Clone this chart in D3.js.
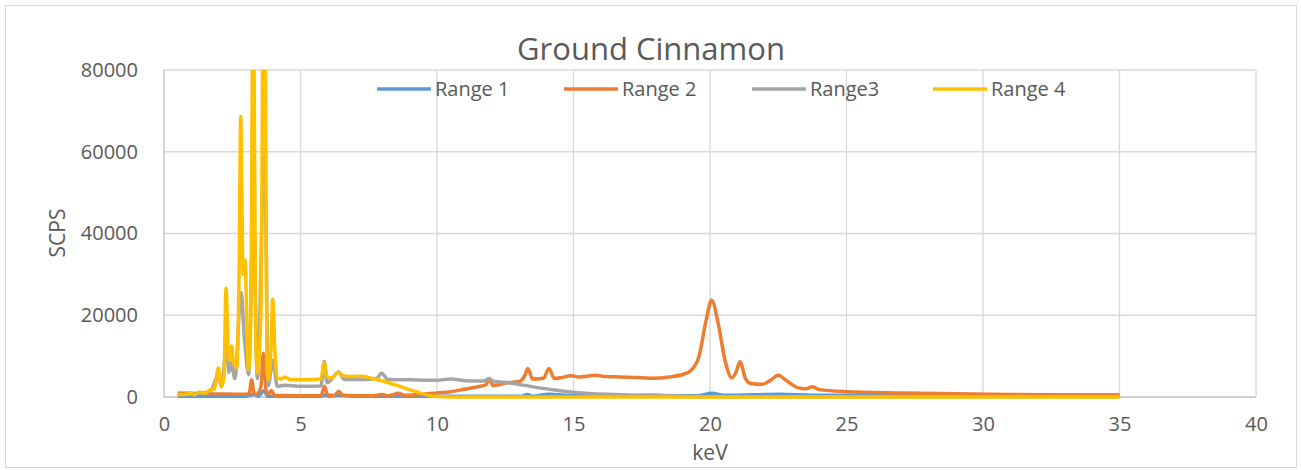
<!DOCTYPE html>
<html>
<head>
<meta charset="utf-8">
<script src="https://cdn.jsdelivr.net/npm/d3@7"></script>
<style>
  body { margin: 0; background: #fff; }
  text { font-family: "Open Sans", Lato, sans-serif; fill: #595959; }
</style>
</head>
<body>
<div id="chart"></div>
<script>
// series names + colours (Excel defaults)
const seriesNames = ["Range 1", "Range 2", "Range3", "Range 4"];
const seriesColors = ["#5b9bd5", "#ed7d31", "#a5a5a5", "#ffc000"];

const xTicks = [0, 5, 10, 15, 20, 25, 30, 35, 40];
const yTicks = [0, 20000, 40000, 60000, 80000];

// Range 1 (blue)
const kev1 = [0.5, 3.0, 3.3, 3.45, 3.67, 3.8, 5.75, 5.9, 6.05, 6.4, 7.0, 13.1, 13.3, 13.5, 14.1, 15.0, 19.6, 20.05, 20.6, 22.5, 24.0, 30.0, 35.0];
const cps1 = [200, 200, 700, 200, 1600, 200, 200, 500, 200, 400, 200, 200, 600, 200, 700, 300, 300, 900, 400, 700, 400, 500, 500];

// Range 2 (orange)
const kev2 = [0.5, 1.0, 1.5, 2.0, 2.6, 3.0, 3.12, 3.21, 3.3, 3.37, 3.55, 3.64, 3.74, 3.8, 3.93, 4.05, 4.5, 5.0, 5.75, 5.88, 6.0, 6.25, 6.4, 6.55, 7.0, 7.6, 8.0, 8.2, 8.6, 8.8, 9.5, 10.0, 10.5, 11.0, 11.5, 11.8, 11.92, 12.05, 12.5, 13.0, 13.2, 13.33, 13.5, 13.9, 14.1, 14.3, 14.6, 14.9, 15.2, 15.8, 16.2, 16.7, 17.5, 17.9, 18.5, 19.0, 19.3, 19.6, 19.85, 20.06, 20.3, 20.55, 20.8, 20.95, 21.1, 21.3, 21.5, 21.9, 22.2, 22.5, 22.8, 23.2, 23.5, 23.75, 24.0, 25.0, 27.0, 29.0, 31.0, 33.0, 35.0];
const cps2 = [1000, 900, 800, 750, 700, 700, 800, 4200, 800, 600, 2500, 10700, 1500, 500, 1600, 400, 350, 300, 350, 2600, 400, 400, 1400, 400, 300, 300, 600, 300, 900, 400, 700, 1000, 1300, 1900, 2500, 3000, 4500, 2800, 3400, 3800, 5000, 7000, 4400, 4600, 7000, 4500, 4800, 5200, 4900, 5300, 5000, 4900, 4700, 4600, 4900, 5500, 6500, 10000, 18500, 23700, 18000, 9000, 4700, 6000, 8600, 4500, 3300, 3100, 4000, 5300, 4000, 2300, 2000, 2500, 1800, 1300, 1000, 800, 600, 500, 400];

// Range3 (grey)
const kev3 = [0.5, 1.0, 1.3, 1.7, 2.0, 2.1, 2.29, 2.38, 2.45, 2.6, 2.82, 2.95, 3.1, 3.27, 3.42, 3.68, 3.82, 3.99, 4.15, 4.43, 5.0, 5.75, 5.87, 5.97, 6.4, 6.6, 7.4, 7.8, 7.97, 8.2, 9.0, 10.0, 10.5, 11.0, 11.7, 11.9, 12.1, 12.5, 13.15, 14.3, 15.1, 16.2, 17.2, 17.9, 19.0, 20.0, 35.0];
const cps3 = [500, 700, 900, 1400, 5500, 2500, 12000, 6000, 8500, 4500, 25500, 14000, 5500, 45000, 4500, 60000, 2800, 9000, 2600, 2900, 2600, 2700, 8700, 3500, 6100, 4300, 4300, 4600, 5800, 4300, 4200, 4100, 4400, 4000, 3900, 4500, 3800, 3600, 2900, 1700, 1100, 650, 450, 500, 200, 50, 50];

// Range 4 (yellow)
const kev4 = [0.5, 0.8, 1.0, 1.1, 1.3, 1.5, 1.7, 1.85, 1.99, 2.1, 2.2, 2.27, 2.38, 2.48, 2.55, 2.6, 2.66, 2.75, 2.81, 2.9, 2.97, 3.03, 3.09, 3.18, 3.27, 3.36, 3.42, 3.55, 3.67, 3.77, 3.82, 3.92, 3.98, 4.07, 4.15, 4.3, 4.43, 4.6, 5.0, 5.5, 5.75, 5.87, 5.97, 6.15, 6.4, 6.55, 6.8, 7.2, 7.6, 8.0, 8.5, 9.0, 9.5, 10.0, 10.5, 35.0];
const cps4 = [600, 700, 1000, 500, 1200, 900, 1800, 2000, 7100, 2500, 5000, 26600, 9000, 12500, 8000, 9000, 7000, 30000, 68600, 30000, 33500, 20000, 6600, 20000, 110000, 14000, 5900, 20000, 140000, 8000, 4200, 12000, 24000, 10000, 4600, 4400, 4900, 4300, 4200, 4300, 4500, 8300, 5000, 4700, 6100, 5200, 5000, 5100, 4600, 3900, 2900, 1800, 700, 100, 0, 0];

const kevs = [kev1, kev2, kev3, kev4];
const cpss = [cps1, cps2, cps3, cps4];

const width = 1301, height = 470;
const margin = { top: 70, right: 45, bottom: 73, left: 164 };
const innerW = width - margin.left - margin.right;   // 1092
const innerH = height - margin.top - margin.bottom;  // 327

const svg = d3.select("#chart").append("svg")
  .attr("width", width)
  .attr("height", height);

// outer chart frame
svg.append("rect")
  .attr("x", 5.5).attr("y", 5.5)
  .attr("width", 1291).attr("height", 462)
  .attr("fill", "#fff")
  .attr("stroke", "#d9d9d9");

const x = d3.scaleLinear().domain([0, 40]).range([0, innerW]);
const y = d3.scaleLinear().domain([0, 80000]).range([innerH, 0]);

const g = svg.append("g").attr("transform", `translate(${margin.left},${margin.top})`);

// gridlines
g.append("g").selectAll("line").data(yTicks.filter(d => d > 0)).join("line")
  .attr("x1", 0).attr("x2", innerW)
  .attr("y1", d => y(d)).attr("y2", d => y(d))
  .attr("stroke", "#d9d9d9").attr("stroke-width", 1.3);
g.append("g").selectAll("line").data(xTicks.filter(d => d > 0)).join("line")
  .attr("x1", d => x(d)).attr("x2", d => x(d))
  .attr("y1", 0).attr("y2", innerH)
  .attr("stroke", "#d9d9d9").attr("stroke-width", 1.3);

// axis lines
g.append("line").attr("x1", 0).attr("x2", innerW).attr("y1", innerH).attr("y2", innerH)
  .attr("stroke", "#bfbfbf").attr("stroke-width", 1.3);
g.append("line").attr("x1", 0).attr("x2", 0).attr("y1", 0).attr("y2", innerH)
  .attr("stroke", "#bfbfbf").attr("stroke-width", 1.3);

// tick labels
const xAxis = g.append("g").attr("transform", `translate(0,${innerH})`)
  .call(d3.axisBottom(x).tickValues(xTicks).tickSize(0).tickPadding(20));
const yAxis = g.append("g")
  .call(d3.axisLeft(y).tickValues(yTicks).tickSize(0).tickPadding(26).tickFormat(d3.format("d")));
[xAxis, yAxis].forEach(a => {
  a.select(".domain").remove();
  a.selectAll("text").style("font-size", "20px").attr("fill", "#595959")
    .style("font-family", "'Open Sans', Lato, sans-serif");
});

// clip for lines that go past 80000
svg.append("defs").append("clipPath").attr("id", "plotclip")
  .append("rect").attr("x", 0).attr("y", 0).attr("width", innerW).attr("height", innerH + 3);

const line = d3.line()
  .x(d => x(d[0]))
  .y(d => y(d[1]))
  .curve(d3.curveMonotoneX);

const lines = g.append("g").attr("clip-path", "url(#plotclip)");
seriesNames.forEach((name, i) => {
  const pts = kevs[i].map((k, j) => [k, cpss[i][j]]);
  lines.append("path")
    .datum(pts)
    .attr("fill", "none")
    .attr("stroke", seriesColors[i])
    .attr("stroke-width", 3.5)
    .attr("stroke-linejoin", "round")
    .attr("d", line);
});

// title
svg.append("text")
  .attr("x", 651).attr("y", 60)
  .attr("text-anchor", "middle")
  .style("font-size", "31px")
  .text("Ground Cinnamon");

// axis titles
svg.append("text")
  .attr("x", 710).attr("y", 460)
  .attr("text-anchor", "middle")
  .style("font-size", "21px")
  .text("keV");
svg.append("text")
  .attr("transform", "translate(65,233) rotate(-90)")
  .attr("text-anchor", "middle")
  .style("font-size", "21px")
  .text("SCPS");

// legend
const legendX = [377, 564, 752, 933];
const legend = svg.append("g");
seriesNames.forEach((name, i) => {
  const lg = legend.append("g").attr("transform", `translate(${legendX[i]},89)`);
  lg.append("line").attr("x1", 0).attr("x2", 54).attr("y1", 0).attr("y2", 0)
    .attr("stroke", seriesColors[i]).attr("stroke-width", 3.5);
  lg.append("text").attr("x", 58).attr("y", 7)
    .style("font-size", "20px")
    .text(name);
});
</script>
</body>
</html>
